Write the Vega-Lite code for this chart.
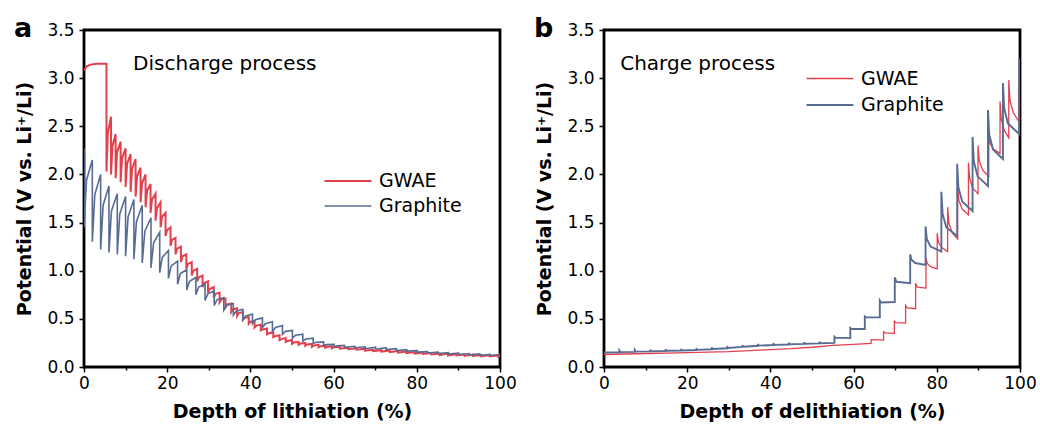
{
"$schema": "https://vega.github.io/schema/vega-lite/v6.json",
"background": "white",
"padding": {"left": 12, "top": 13, "right": 10, "bottom": 4},
"config": {
 "font": "DejaVu Sans",
 "view": {"stroke": "black", "strokeWidth": 2.8},
 "axis": {"domain": false, "grid": false, "tickColor": "black", "tickWidth": 1.5, "labelFont": "DejaVu Sans", "labelFontSize": 17, "labelColor": "black", "labelFlush": false, "titleFont": "DejaVu Sans", "titleFontSize": 19, "titleFontWeight": "bold", "titleColor": "black"},
 "legend": {"labelFont": "DejaVu Sans", "labelFontSize": 19, "labelColor": "black", "symbolType": "M-2,0H2", "symbolSize": 550, "labelOffset": 18, "orient": "none"},
 "title": {"font": "DejaVu Sans", "fontSize": 27, "fontWeight": "bold", "color": "black", "anchor": "start", "frame": "group", "orient": "top", "dx": -70, "offset": 0}
},
"datasets": {
"a": [
{"s":"GWAE","x":0,"y":3.08},{"s":"GWAE","x":0.6,"y":3.12},{"s":"GWAE","x":1.5,"y":3.14},{"s":"GWAE","x":3,"y":3.15},{"s":"GWAE","x":5.4,"y":3.15},{"s":"GWAE","x":5.4,"y":2.03},{"s":"GWAE","x":5.73,"y":2.43},
{"s":"GWAE","x":6.5,"y":2.6},{"s":"GWAE","x":6.5,"y":2.0},{"s":"GWAE","x":6.83,"y":2.29},
{"s":"GWAE","x":7.6,"y":2.42},{"s":"GWAE","x":7.6,"y":1.96},{"s":"GWAE","x":7.96,"y":2.23},
{"s":"GWAE","x":8.8,"y":2.34},{"s":"GWAE","x":8.8,"y":1.92},{"s":"GWAE","x":9.16,"y":2.17},
{"s":"GWAE","x":10.0,"y":2.27},{"s":"GWAE","x":10.0,"y":1.87},{"s":"GWAE","x":10.36,"y":2.11},
{"s":"GWAE","x":11.2,"y":2.21},{"s":"GWAE","x":11.2,"y":1.82},{"s":"GWAE","x":11.56,"y":2.06},
{"s":"GWAE","x":12.4,"y":2.16},{"s":"GWAE","x":12.4,"y":1.77},{"s":"GWAE","x":12.76,"y":1.98},
{"s":"GWAE","x":13.6,"y":2.07},{"s":"GWAE","x":13.6,"y":1.71},{"s":"GWAE","x":13.96,"y":1.91},
{"s":"GWAE","x":14.8,"y":2.0},{"s":"GWAE","x":14.8,"y":1.66},{"s":"GWAE","x":15.16,"y":1.83},
{"s":"GWAE","x":16.0,"y":1.9},{"s":"GWAE","x":16.0,"y":1.6},{"s":"GWAE","x":16.36,"y":1.74},
{"s":"GWAE","x":17.2,"y":1.8},{"s":"GWAE","x":17.2,"y":1.52},{"s":"GWAE","x":17.56,"y":1.65},
{"s":"GWAE","x":18.4,"y":1.71},{"s":"GWAE","x":18.4,"y":1.45},{"s":"GWAE","x":18.76,"y":1.56},
{"s":"GWAE","x":19.6,"y":1.6},{"s":"GWAE","x":19.6,"y":1.36},{"s":"GWAE","x":19.96,"y":1.42},
{"s":"GWAE","x":20.8,"y":1.45},{"s":"GWAE","x":20.8,"y":1.26},{"s":"GWAE","x":21.16,"y":1.32},
{"s":"GWAE","x":22.0,"y":1.34},{"s":"GWAE","x":22.0,"y":1.17},{"s":"GWAE","x":22.39,"y":1.23},
{"s":"GWAE","x":23.3,"y":1.25},{"s":"GWAE","x":23.3,"y":1.09},{"s":"GWAE","x":23.69,"y":1.15},
{"s":"GWAE","x":24.6,"y":1.17},{"s":"GWAE","x":24.6,"y":1.02},{"s":"GWAE","x":24.99,"y":1.07},
{"s":"GWAE","x":25.9,"y":1.09},{"s":"GWAE","x":25.9,"y":0.95},{"s":"GWAE","x":26.29,"y":1.0},
{"s":"GWAE","x":27.2,"y":1.02},{"s":"GWAE","x":27.2,"y":0.89},{"s":"GWAE","x":27.59,"y":0.93},
{"s":"GWAE","x":28.5,"y":0.95},{"s":"GWAE","x":28.5,"y":0.83},{"s":"GWAE","x":28.89,"y":0.87},
{"s":"GWAE","x":29.8,"y":0.89},{"s":"GWAE","x":29.8,"y":0.77},{"s":"GWAE","x":30.22,"y":0.81},
{"s":"GWAE","x":31.2,"y":0.83},{"s":"GWAE","x":31.2,"y":0.72},{"s":"GWAE","x":31.62,"y":0.76},
{"s":"GWAE","x":32.6,"y":0.77},{"s":"GWAE","x":32.6,"y":0.67},{"s":"GWAE","x":33.02,"y":0.7},
{"s":"GWAE","x":34.0,"y":0.71},{"s":"GWAE","x":34.0,"y":0.62},{"s":"GWAE","x":34.42,"y":0.65},
{"s":"GWAE","x":35.4,"y":0.66},{"s":"GWAE","x":35.4,"y":0.57},{"s":"GWAE","x":35.82,"y":0.6},
{"s":"GWAE","x":36.8,"y":0.61},{"s":"GWAE","x":36.8,"y":0.53},{"s":"GWAE","x":37.22,"y":0.56},
{"s":"GWAE","x":38.2,"y":0.57},{"s":"GWAE","x":38.2,"y":0.49},{"s":"GWAE","x":38.62,"y":0.51},
{"s":"GWAE","x":39.6,"y":0.52},{"s":"GWAE","x":39.6,"y":0.45},{"s":"GWAE","x":40.02,"y":0.47},
{"s":"GWAE","x":41.0,"y":0.48},{"s":"GWAE","x":41.0,"y":0.41},{"s":"GWAE","x":41.45,"y":0.43},
{"s":"GWAE","x":42.5,"y":0.44},{"s":"GWAE","x":42.5,"y":0.38},{"s":"GWAE","x":42.95,"y":0.39},
{"s":"GWAE","x":44.0,"y":0.4},{"s":"GWAE","x":44.0,"y":0.34},{"s":"GWAE","x":44.45,"y":0.35},
{"s":"GWAE","x":45.5,"y":0.36},{"s":"GWAE","x":45.5,"y":0.31},{"s":"GWAE","x":45.95,"y":0.32},
{"s":"GWAE","x":47.0,"y":0.33},{"s":"GWAE","x":47.0,"y":0.28},{"s":"GWAE","x":47.45,"y":0.29},
{"s":"GWAE","x":48.5,"y":0.3},{"s":"GWAE","x":48.5,"y":0.26},{"s":"GWAE","x":48.95,"y":0.27},
{"s":"GWAE","x":50.0,"y":0.28},{"s":"GWAE","x":50.0,"y":0.24},{"s":"GWAE","x":50.48,"y":0.254},
{"s":"GWAE","x":51.6,"y":0.26},{"s":"GWAE","x":51.6,"y":0.23},{"s":"GWAE","x":52.08,"y":0.244},
{"s":"GWAE","x":53.2,"y":0.25},{"s":"GWAE","x":53.2,"y":0.22},{"s":"GWAE","x":53.68,"y":0.234},
{"s":"GWAE","x":54.8,"y":0.24},{"s":"GWAE","x":54.8,"y":0.21},{"s":"GWAE","x":55.28,"y":0.224},
{"s":"GWAE","x":56.4,"y":0.23},{"s":"GWAE","x":56.4,"y":0.205},{"s":"GWAE","x":56.88,"y":0.216},
{"s":"GWAE","x":58.0,"y":0.22},{"s":"GWAE","x":58.0,"y":0.2},{"s":"GWAE","x":58.48,"y":0.21},
{"s":"GWAE","x":59.6,"y":0.215},{"s":"GWAE","x":59.6,"y":0.195},{"s":"GWAE","x":60.17,"y":0.206},
{"s":"GWAE","x":61.5,"y":0.21},{"s":"GWAE","x":61.5,"y":0.19},{"s":"GWAE","x":63.5,"y":0.2},{"s":"GWAE","x":63.5,"y":0.185},
{"s":"GWAE","x":65.5,"y":0.195},{"s":"GWAE","x":65.5,"y":0.18},{"s":"GWAE","x":67.5,"y":0.19},{"s":"GWAE","x":67.5,"y":0.17},
{"s":"GWAE","x":69.5,"y":0.18},{"s":"GWAE","x":69.5,"y":0.165},{"s":"GWAE","x":71.5,"y":0.175},{"s":"GWAE","x":71.5,"y":0.16},
{"s":"GWAE","x":73.5,"y":0.17},{"s":"GWAE","x":73.5,"y":0.155},{"s":"GWAE","x":75.5,"y":0.165},{"s":"GWAE","x":75.5,"y":0.15},
{"s":"GWAE","x":77.5,"y":0.16},{"s":"GWAE","x":77.5,"y":0.145},{"s":"GWAE","x":79.5,"y":0.155},{"s":"GWAE","x":79.5,"y":0.14},
{"s":"GWAE","x":81.5,"y":0.15},{"s":"GWAE","x":81.5,"y":0.135},{"s":"GWAE","x":83.5,"y":0.145},{"s":"GWAE","x":83.5,"y":0.13},
{"s":"GWAE","x":85.5,"y":0.14},{"s":"GWAE","x":85.5,"y":0.125},{"s":"GWAE","x":87.5,"y":0.14},{"s":"GWAE","x":87.5,"y":0.12},
{"s":"GWAE","x":89.5,"y":0.135},{"s":"GWAE","x":89.5,"y":0.12},{"s":"GWAE","x":91.5,"y":0.13},{"s":"GWAE","x":91.5,"y":0.115},
{"s":"GWAE","x":93.5,"y":0.13},{"s":"GWAE","x":93.5,"y":0.115},{"s":"GWAE","x":95.5,"y":0.125},{"s":"GWAE","x":95.5,"y":0.11},
{"s":"GWAE","x":97.5,"y":0.125},{"s":"GWAE","x":97.5,"y":0.11},{"s":"GWAE","x":99.5,"y":0.12},{"s":"GWAE","x":99.5,"y":0.11},{"s":"GWAE","x":100,"y":0.115},
{"s":"Graphite","x":0,"y":2.27},{"s":"Graphite","x":0,"y":1.45},{"s":"Graphite","x":0.6,"y":1.94},
{"s":"Graphite","x":2.0,"y":2.15},{"s":"Graphite","x":2.0,"y":1.3},{"s":"Graphite","x":2.6,"y":1.79},
{"s":"Graphite","x":4.0,"y":2.0},{"s":"Graphite","x":4.0,"y":1.22},{"s":"Graphite","x":4.6,"y":1.68},
{"s":"Graphite","x":6.0,"y":1.88},{"s":"Graphite","x":6.0,"y":1.19},{"s":"Graphite","x":6.6,"y":1.62},
{"s":"Graphite","x":8.0,"y":1.8},{"s":"Graphite","x":8.0,"y":1.17},{"s":"Graphite","x":8.6,"y":1.59},
{"s":"Graphite","x":10.0,"y":1.77},{"s":"Graphite","x":10.0,"y":1.15},{"s":"Graphite","x":10.6,"y":1.56},
{"s":"Graphite","x":12.0,"y":1.74},{"s":"Graphite","x":12.0,"y":1.12},{"s":"Graphite","x":12.6,"y":1.51},
{"s":"Graphite","x":14.0,"y":1.68},{"s":"Graphite","x":14.0,"y":1.08},{"s":"Graphite","x":14.63,"y":1.41},
{"s":"Graphite","x":16.1,"y":1.55},{"s":"Graphite","x":16.1,"y":1.03},{"s":"Graphite","x":16.73,"y":1.29},
{"s":"Graphite","x":18.2,"y":1.4},{"s":"Graphite","x":18.2,"y":0.98},{"s":"Graphite","x":18.83,"y":1.14},
{"s":"Graphite","x":20.3,"y":1.21},{"s":"Graphite","x":20.3,"y":0.92},{"s":"Graphite","x":20.96,"y":1.05},
{"s":"Graphite","x":22.5,"y":1.1},{"s":"Graphite","x":22.5,"y":0.86},{"s":"Graphite","x":23.16,"y":0.97},
{"s":"Graphite","x":24.7,"y":1.01},{"s":"Graphite","x":24.7,"y":0.8},{"s":"Graphite","x":25.36,"y":0.89},
{"s":"Graphite","x":26.9,"y":0.93},{"s":"Graphite","x":26.9,"y":0.75},{"s":"Graphite","x":27.56,"y":0.83},
{"s":"Graphite","x":29.1,"y":0.86},{"s":"Graphite","x":29.1,"y":0.69},{"s":"Graphite","x":29.76,"y":0.76},
{"s":"Graphite","x":31.3,"y":0.79},{"s":"Graphite","x":31.3,"y":0.64},{"s":"Graphite","x":31.99,"y":0.7},
{"s":"Graphite","x":33.6,"y":0.72},{"s":"Graphite","x":33.6,"y":0.59},{"s":"Graphite","x":34.29,"y":0.64},
{"s":"Graphite","x":35.9,"y":0.66},{"s":"Graphite","x":35.9,"y":0.54},{"s":"Graphite","x":36.59,"y":0.58},
{"s":"Graphite","x":38.2,"y":0.6},{"s":"Graphite","x":38.2,"y":0.49},{"s":"Graphite","x":38.89,"y":0.53},
{"s":"Graphite","x":40.5,"y":0.55},{"s":"Graphite","x":40.5,"y":0.45},{"s":"Graphite","x":41.22,"y":0.49},
{"s":"Graphite","x":42.9,"y":0.51},{"s":"Graphite","x":42.9,"y":0.41},{"s":"Graphite","x":43.62,"y":0.45},
{"s":"Graphite","x":45.3,"y":0.47},{"s":"Graphite","x":45.3,"y":0.37},{"s":"Graphite","x":46.02,"y":0.41},
{"s":"Graphite","x":47.7,"y":0.43},{"s":"Graphite","x":47.7,"y":0.34},{"s":"Graphite","x":48.42,"y":0.37},
{"s":"Graphite","x":50.1,"y":0.38},{"s":"Graphite","x":50.1,"y":0.3},{"s":"Graphite","x":50.85,"y":0.33},
{"s":"Graphite","x":52.6,"y":0.34},{"s":"Graphite","x":52.6,"y":0.27},{"s":"Graphite","x":53.35,"y":0.29},
{"s":"Graphite","x":55.1,"y":0.3},{"s":"Graphite","x":55.1,"y":0.245},{"s":"Graphite","x":55.85,"y":0.256},
{"s":"Graphite","x":57.6,"y":0.26},{"s":"Graphite","x":57.6,"y":0.225},{"s":"Graphite","x":58.35,"y":0.232},
{"s":"Graphite","x":60.1,"y":0.235},{"s":"Graphite","x":60.1,"y":0.21},{"s":"Graphite","x":60.85,"y":0.22},
{"s":"Graphite","x":62.6,"y":0.225},{"s":"Graphite","x":62.6,"y":0.205},{"s":"Graphite","x":65.1,"y":0.215},{"s":"Graphite","x":65.1,"y":0.2},
{"s":"Graphite","x":67.6,"y":0.21},{"s":"Graphite","x":67.6,"y":0.19},{"s":"Graphite","x":70.1,"y":0.205},{"s":"Graphite","x":70.1,"y":0.185},
{"s":"Graphite","x":72.6,"y":0.2},{"s":"Graphite","x":72.6,"y":0.18},{"s":"Graphite","x":75.1,"y":0.19},{"s":"Graphite","x":75.1,"y":0.17},
{"s":"Graphite","x":77.6,"y":0.18},{"s":"Graphite","x":77.6,"y":0.165},{"s":"Graphite","x":80.1,"y":0.17},{"s":"Graphite","x":80.1,"y":0.155},
{"s":"Graphite","x":82.6,"y":0.16},{"s":"Graphite","x":82.6,"y":0.145},{"s":"Graphite","x":85.1,"y":0.155},{"s":"Graphite","x":85.1,"y":0.14},
{"s":"Graphite","x":87.6,"y":0.15},{"s":"Graphite","x":87.6,"y":0.135},{"s":"Graphite","x":90.1,"y":0.145},{"s":"Graphite","x":90.1,"y":0.13},
{"s":"Graphite","x":92.6,"y":0.14},{"s":"Graphite","x":92.6,"y":0.125},{"s":"Graphite","x":95.1,"y":0.135},{"s":"Graphite","x":95.1,"y":0.12},
{"s":"Graphite","x":97.6,"y":0.13},{"s":"Graphite","x":97.6,"y":0.12},{"s":"Graphite","x":100,"y":0.13}
],
"b": [
{"s":"GWAE","x":0,"y":0.13},{"s":"GWAE","x":5,"y":0.135},{"s":"GWAE","x":10,"y":0.14},{"s":"GWAE","x":15,"y":0.145},{"s":"GWAE","x":20,"y":0.15},{"s":"GWAE","x":25,"y":0.155},{"s":"GWAE","x":30,"y":0.16},{"s":"GWAE","x":35,"y":0.17},{"s":"GWAE","x":40,"y":0.18},{"s":"GWAE","x":45,"y":0.19},{"s":"GWAE","x":50,"y":0.205},{"s":"GWAE","x":55,"y":0.225},{"s":"GWAE","x":60,"y":0.235},{"s":"GWAE","x":64.2,"y":0.245},
{"s":"GWAE","x":64.2,"y":0.285},{"s":"GWAE","x":67.2,"y":0.28},
{"s":"GWAE","x":67.2,"y":0.365},{"s":"GWAE","x":67.6,"y":0.355},{"s":"GWAE","x":69.8,"y":0.35},
{"s":"GWAE","x":69.8,"y":0.475},{"s":"GWAE","x":70.2,"y":0.46},{"s":"GWAE","x":72.5,"y":0.455},
{"s":"GWAE","x":72.5,"y":0.64},{"s":"GWAE","x":72.9,"y":0.615},{"s":"GWAE","x":74.9,"y":0.605},
{"s":"GWAE","x":74.9,"y":0.87},{"s":"GWAE","x":75.3,"y":0.83},{"s":"GWAE","x":77.4,"y":0.82},
{"s":"GWAE","x":77.4,"y":1.13},{"s":"GWAE","x":77.7,"y":1.075},{"s":"GWAE","x":78.6,"y":1.04},{"s":"GWAE","x":80.1,"y":1.02},
{"s":"GWAE","x":80.1,"y":1.39},{"s":"GWAE","x":80.4,"y":1.295},{"s":"GWAE","x":81.2,"y":1.24},{"s":"GWAE","x":82.6,"y":1.2},
{"s":"GWAE","x":82.6,"y":1.66},{"s":"GWAE","x":82.9,"y":1.495},{"s":"GWAE","x":83.7,"y":1.395},{"s":"GWAE","x":85.0,"y":1.33},
{"s":"GWAE","x":85.0,"y":1.88},{"s":"GWAE","x":85.3,"y":1.73},{"s":"GWAE","x":86.1,"y":1.64},{"s":"GWAE","x":87.6,"y":1.58},
{"s":"GWAE","x":87.6,"y":2.12},{"s":"GWAE","x":87.9,"y":1.96},{"s":"GWAE","x":88.6,"y":1.86},{"s":"GWAE","x":89.9,"y":1.8},
{"s":"GWAE","x":89.9,"y":2.3},{"s":"GWAE","x":90.2,"y":2.14},{"s":"GWAE","x":91.1,"y":2.04},{"s":"GWAE","x":92.5,"y":1.98},
{"s":"GWAE","x":92.5,"y":2.42},{"s":"GWAE","x":92.8,"y":2.32},{"s":"GWAE","x":93.7,"y":2.26},{"s":"GWAE","x":95.2,"y":2.22},
{"s":"GWAE","x":95.2,"y":2.76},{"s":"GWAE","x":95.5,"y":2.57},{"s":"GWAE","x":96.2,"y":2.46},{"s":"GWAE","x":97.3,"y":2.38},
{"s":"GWAE","x":97.3,"y":2.98},{"s":"GWAE","x":97.6,"y":2.765},{"s":"GWAE","x":98.4,"y":2.64},{"s":"GWAE","x":99.7,"y":2.55},
{"s":"GWAE","x":99.7,"y":2.95},{"s":"GWAE","x":100,"y":2.75},
{"s":"Graphite","x":0,"y":0.15},{"s":"Graphite","x":3.7,"y":0.152},{"s":"Graphite","x":3.7,"y":0.17},{"s":"Graphite","x":3.9,"y":0.155},
{"s":"Graphite","x":7.4,"y":0.157},{"s":"Graphite","x":7.4,"y":0.175},{"s":"Graphite","x":7.6,"y":0.16},
{"s":"Graphite","x":11.1,"y":0.162},{"s":"Graphite","x":11.1,"y":0.18},{"s":"Graphite","x":11.3,"y":0.164},
{"s":"Graphite","x":14.8,"y":0.166},{"s":"Graphite","x":14.8,"y":0.184},{"s":"Graphite","x":15,"y":0.168},
{"s":"Graphite","x":18.5,"y":0.17},{"s":"Graphite","x":18.5,"y":0.188},{"s":"Graphite","x":18.7,"y":0.172},
{"s":"Graphite","x":22.2,"y":0.176},{"s":"Graphite","x":22.2,"y":0.194},{"s":"Graphite","x":22.4,"y":0.178},
{"s":"Graphite","x":25.9,"y":0.184},{"s":"Graphite","x":25.9,"y":0.204},{"s":"Graphite","x":26.1,"y":0.187},
{"s":"Graphite","x":29.6,"y":0.195},{"s":"Graphite","x":29.6,"y":0.215},{"s":"Graphite","x":29.8,"y":0.198},
{"s":"Graphite","x":33.3,"y":0.208},{"s":"Graphite","x":33.3,"y":0.228},{"s":"Graphite","x":33.5,"y":0.21},
{"s":"Graphite","x":37,"y":0.22},{"s":"Graphite","x":37,"y":0.24},{"s":"Graphite","x":37.2,"y":0.222},
{"s":"Graphite","x":40.7,"y":0.228},{"s":"Graphite","x":40.7,"y":0.246},{"s":"Graphite","x":40.9,"y":0.23},
{"s":"Graphite","x":44.4,"y":0.234},{"s":"Graphite","x":44.4,"y":0.252},{"s":"Graphite","x":44.6,"y":0.236},
{"s":"Graphite","x":48.1,"y":0.24},{"s":"Graphite","x":48.1,"y":0.258},{"s":"Graphite","x":48.3,"y":0.242},
{"s":"Graphite","x":51.8,"y":0.245},{"s":"Graphite","x":51.8,"y":0.262},{"s":"Graphite","x":52,"y":0.246},
{"s":"Graphite","x":55.4,"y":0.25},{"s":"Graphite","x":55.4,"y":0.315},{"s":"Graphite","x":55.7,"y":0.305},{"s":"Graphite","x":59.2,"y":0.3},
{"s":"Graphite","x":59.2,"y":0.405},{"s":"Graphite","x":59.5,"y":0.395},{"s":"Graphite","x":62.7,"y":0.395},
{"s":"Graphite","x":62.7,"y":0.525},{"s":"Graphite","x":63,"y":0.515},{"s":"Graphite","x":66.3,"y":0.515},
{"s":"Graphite","x":66.3,"y":0.69},{"s":"Graphite","x":66.6,"y":0.67},{"s":"Graphite","x":69.9,"y":0.675},
{"s":"Graphite","x":69.9,"y":0.93},{"s":"Graphite","x":70.3,"y":0.885},{"s":"Graphite","x":73.6,"y":0.87},
{"s":"Graphite","x":73.6,"y":1.17},{"s":"Graphite","x":73.9,"y":1.115},{"s":"Graphite","x":74.8,"y":1.08},{"s":"Graphite","x":77.3,"y":1.06},
{"s":"Graphite","x":77.3,"y":1.46},{"s":"Graphite","x":77.6,"y":1.33},{"s":"Graphite","x":78.5,"y":1.25},{"s":"Graphite","x":81.1,"y":1.2},
{"s":"Graphite","x":81.1,"y":1.82},{"s":"Graphite","x":81.4,"y":1.59},{"s":"Graphite","x":82.3,"y":1.45},{"s":"Graphite","x":84.9,"y":1.36},
{"s":"Graphite","x":84.9,"y":2.11},{"s":"Graphite","x":85.2,"y":1.865},{"s":"Graphite","x":86.1,"y":1.72},{"s":"Graphite","x":88.6,"y":1.62},
{"s":"Graphite","x":88.6,"y":2.39},{"s":"Graphite","x":88.9,"y":2.135},{"s":"Graphite","x":89.8,"y":1.98},{"s":"Graphite","x":92.3,"y":1.88},
{"s":"Graphite","x":92.3,"y":2.67},{"s":"Graphite","x":92.6,"y":2.415},{"s":"Graphite","x":93.5,"y":2.26},{"s":"Graphite","x":95.9,"y":2.16},
{"s":"Graphite","x":95.9,"y":2.95},{"s":"Graphite","x":96.2,"y":2.685},{"s":"Graphite","x":97.1,"y":2.53},{"s":"Graphite","x":99.8,"y":2.42},
{"s":"Graphite","x":99.8,"y":3.2},{"s":"Graphite","x":100,"y":3.1}
]
},
"hconcat": [
{
 "width": 416, "height": 337,
 "title": {"text": "a", "dy": 26},
 "layer": [
  {"data": {"name": "a"}, "mark": {"type": "line", "clip": true},
   "encoding": {
    "x": {"field": "x", "type": "quantitative", "scale": {"domain": [0, 100], "nice": false},
      "axis": {"title": "Depth of lithiation (%)", "values": [0,10,20,30,40,50,60,70,80,90,100], "labelExpr": "datum.value % 20 === 0 ? datum.label : ''", "tickSize": {"condition": {"test": "datum.value % 20 !== 0", "value": 3}, "value": 5}, "labelPadding": 3, "titlePadding": 11}},
    "y": {"field": "y", "type": "quantitative", "scale": {"domain": [0, 3.5], "nice": false},
      "axis": {"title": "Potential (V vs. Li⁺/Li)", "values": [0,0.25,0.5,0.75,1,1.25,1.5,1.75,2,2.25,2.5,2.75,3,3.25,3.5], "format": ".1f", "labelExpr": "datum.value % 0.5 === 0 ? datum.label : ''", "tickSize": {"condition": {"test": "datum.value % 0.5 !== 0", "value": 3}, "value": 5}, "labelPadding": 5, "titlePadding": 12}},
    "color": {"field": "s", "type": "nominal", "scale": {"domain": ["GWAE", "Graphite"], "range": ["#e3404e", "#586b93"]}, "legend": {"title": null, "legendX": 251, "legendY": 138, "rowPadding": 2}},
    "strokeWidth": {"field": "s", "type": "nominal", "scale": {"domain": ["GWAE", "Graphite"], "range": [2.0, 1.6]}, "legend": {"title": null, "legendX": 251, "legendY": 138, "rowPadding": 2}},
    "order": {"value": null}
   }},
  {"data": {"values": [{}]},
   "mark": {"type": "text", "align": "left", "baseline": "alphabetic", "fontSize": 20, "color": "black"},
   "encoding": {"x": {"datum": 11.8}, "y": {"datum": 3.08}, "text": {"value": "Discharge process"}}}
 ]
},
{
 "width": 416, "height": 337,
 "title": {"text": "b", "dy": 26},
 "layer": [
  {"data": {"name": "b"}, "mark": {"type": "line", "clip": true},
   "encoding": {
    "x": {"field": "x", "type": "quantitative", "scale": {"domain": [0, 100], "nice": false},
      "axis": {"title": "Depth of delithiation (%)", "values": [0,10,20,30,40,50,60,70,80,90,100], "labelExpr": "datum.value % 20 === 0 ? datum.label : ''", "tickSize": {"condition": {"test": "datum.value % 20 !== 0", "value": 3}, "value": 5}, "labelPadding": 3, "titlePadding": 11}},
    "y": {"field": "y", "type": "quantitative", "scale": {"domain": [0, 3.5], "nice": false},
      "axis": {"title": "Potential (V vs. Li⁺/Li)", "values": [0,0.25,0.5,0.75,1,1.25,1.5,1.75,2,2.25,2.5,2.75,3,3.25,3.5], "format": ".1f", "labelExpr": "datum.value % 0.5 === 0 ? datum.label : ''", "tickSize": {"condition": {"test": "datum.value % 0.5 !== 0", "value": 3}, "value": 5}, "labelPadding": 5, "titlePadding": 12}},
    "color": {"field": "s", "type": "nominal", "scale": {"domain": ["GWAE", "Graphite"], "range": ["#e3404e", "#586b93"]}, "legend": {"title": null, "legendX": 213, "legendY": 36, "rowPadding": 3}},
    "strokeWidth": {"field": "s", "type": "nominal", "scale": {"domain": ["GWAE", "Graphite"], "range": [1.3, 1.9]}, "legend": {"title": null, "legendX": 213, "legendY": 36, "rowPadding": 3}},
    "order": {"value": null}
   }},
  {"data": {"values": [{}]},
   "mark": {"type": "text", "align": "left", "baseline": "alphabetic", "fontSize": 20, "color": "black"},
   "encoding": {"x": {"datum": 3.9}, "y": {"datum": 3.08}, "text": {"value": "Charge process"}}}
 ]
}
],
"spacing": 104,
"bounds": "flush",
"resolve": {"scale": {"color": "independent", "strokeWidth": "independent"}, "legend": {"color": "independent", "strokeWidth": "independent"}}
}
